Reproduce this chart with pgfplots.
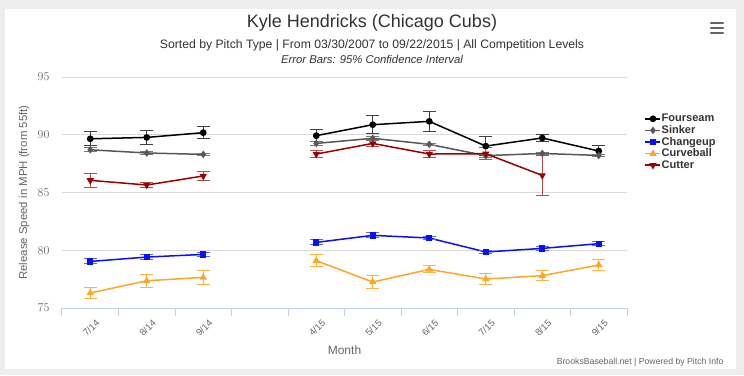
\documentclass[border=0pt]{standalone}
\usepackage{pgfplots}
\pgfplotsset{compat=1.18}
\usepackage{fontspec}
\setmainfont{Liberation Sans}
\definecolor{txt}{HTML}{333333}
\definecolor{lab}{HTML}{666666}
\definecolor{gridc}{HTML}{DADADA}
\definecolor{axisc}{HTML}{C0D0E0}
\definecolor{bg}{HTML}{EDEDED}
\definecolor{sk}{HTML}{585858}
\definecolor{ch}{HTML}{0A10F5}
\definecolor{cb}{HTML}{FFA628}
\definecolor{ct}{HTML}{9A0000}
\pgfplotsset{
  errb/.style={error bars/y dir=both, error bars/y explicit,
    error bars/error mark=|,
    error bars/error bar style={line width=1pt, #1},
    error bars/error mark options={line width=1pt, mark size=6.5pt, #1}},
  fsS/.style={black, line width=1.5pt, mark=*, mark size=2.6pt, mark options={solid}, errb={black!75}},
  skS/.style={sk, line width=1.5pt, mark=diamond*, mark size=2.6pt, mark options={solid}, errb={sk!80}},
  chS/.style={ch, line width=1.5pt, mark=square*, mark size=2.4pt, mark options={solid}, errb={ch!65}},
  cbS/.style={cb, line width=1.5pt, mark=triangle*, mark size=2.8pt, mark options={solid}, errb={cb!85}},
  ctS/.style={ct, line width=1.5pt, mark=triangle*, mark size=2.8pt, mark options={solid, rotate=180}, errb={ct!70}},
}
\begin{document}
\begin{tikzpicture}[x=1pt,y=1pt]
\fill[bg] (0,0) rectangle (744,375);
\fill[white] (5,6) rectangle (736,366);
\node[font=\fontsize{18}{20}\selectfont, text=txt] at (372,352) {Kyle Hendricks (Chicago Cubs)};
\node[font=\fontsize{12.2}{14}\selectfont, text=txt] at (372,330) {Sorted by Pitch Type | From 03/30/2007 to 09/22/2015 | All Competition Levels};
\node[font=\fontsize{11.3}{13}\selectfont\itshape, text=txt] at (372,316) {Error Bars: 95\% Confidence Interval};
\foreach \yy in {342,347,352} \draw[lab, line width=2.2pt, line cap=round] (711,\yy) -- (723,\yy);
\node[anchor=east, font=\fontsize{8.7}{10}\selectfont, text=lab] at (727,13) {BrooksBaseball.net | Powered by Pitch Info};
\begin{axis}[
  at={(62pt,67pt)}, anchor=south west, scale only axis,
  width=565pt, height=231pt,
  xmin=-0.5, xmax=9.5, ymin=75, ymax=95,
  ytick={75,80,...,95},
  ymajorgrids, grid style={gridc, line width=0.8pt},
  axis x line*=bottom, axis y line*=left,
  y axis line style={draw=none},
  x axis line style={axisc, line width=1pt},
  xtick={0,...,9},
  xticklabels={7/14,8/14,9/14,,4/15,5/15,6/15,7/15,8/15,9/15},
  minor xtick={-0.5,0.5,...,9.5},
  major tick length=0pt, minor tick length=8pt, tick align=outside,
  minor tick style={axisc, line width=1pt},
  xticklabel style={rotate=45, anchor=north east, font=\fontsize{9.5}{11}\selectfont, text=lab, inner sep=1pt, yshift=-10pt, xshift=-3pt},
  yticklabel style={font=\fontsize{12}{14}\selectfont, text=lab, xshift=-9pt},
  ylabel={Release Speed in MPH (from 55ft)},
  every axis y label/.style={at={(axis description cs:-0.067,0.5)}, rotate=90, anchor=center, font=\fontsize{11.4}{14}\selectfont, text=lab},
  xlabel={Month},
  every axis x label/.style={at={(axis description cs:0.5,-0.182)}, anchor=center, font=\fontsize{12}{14}\selectfont, text=lab},
  legend style={at={(axis description cs:1.031,0.845)}, anchor=north west, draw=none, fill=none,
    font=\fontsize{11}{12}\selectfont\bfseries, text=txt, row sep=0pt, inner sep=0pt,
    nodes={text height=8.3pt, text depth=2.3pt, inner sep=0.5pt}},
  legend cell align=left,
  legend image code/.code={\draw[mark repeat=2, mark phase=2, #1] plot coordinates {(0pt,0pt) (7.5pt,0pt) (15pt,0pt)};},
]
% Fourseam
\addplot[fsS] coordinates {(0,89.65) +- (0,0.6) (1,89.77) +- (0,0.62) (2,90.18) +- (0,0.53)};
\addlegendentry{Fourseam}
\addplot[fsS, forget plot] coordinates {(4,89.92) +- (0,0.5) (5,90.87) +- (0,0.78) (6,91.16) +- (0,0.85) (7,89.02) +- (0,0.8) (8,89.72) +- (0,0.3) (9,88.59) +- (0,0.46)};
% Sinker
\addplot[skS] coordinates {(0,88.70) +- (0,0.16) (1,88.42) +- (0,0.1) (2,88.30) +- (0,0.1)};
\addlegendentry{Sinker}
\addplot[skS, forget plot] coordinates {(4,89.25) +- (0,0.2) (5,89.69) +- (0,0.15) (6,89.17) +- (0,0.1) (7,88.19) +- (0,0.12) (8,88.38) +- (0,0.08) (9,88.21) +- (0,0.08)};
% Changeup
\addplot[chS] coordinates {(0,79.03) +- (0,0.22) (1,79.41) +- (0,0.2) (2,79.64) +- (0,0.2)};
\addlegendentry{Changeup}
\addplot[chS, forget plot] coordinates {(4,80.68) +- (0,0.22) (5,81.29) +- (0,0.22) (6,81.06) +- (0,0.13) (7,79.85) +- (0,0.15) (8,80.16) +- (0,0.15) (9,80.57) +- (0,0.17)};
% Curveball
\addplot[cbS] coordinates {(0,76.30) +- (0,0.5) (1,77.36) +- (0,0.58) (2,77.65) +- (0,0.63)};
\addlegendentry{Curveball}
\addplot[cbS, forget plot] coordinates {(4,79.10) +- (0,0.5) (5,77.25) +- (0,0.6) (6,78.34) +- (0,0.3) (7,77.51) +- (0,0.5) (8,77.80) +- (0,0.42) (9,78.72) +- (0,0.5)};
% Cutter
\addplot[ctS] coordinates {(0,86.05) +- (0,0.6) (1,85.65) +- (0,0.25) (2,86.43) +- (0,0.38)};
\addlegendentry{Cutter}
\addplot[ctS, forget plot] coordinates {(4,88.33) +- (0,0.28) (5,89.25) +- (0,0.3) (6,88.33) +- (0,0.3) (7,88.36) +- (0,0.5) (8,86.48) +- (0,1.75)};
\end{axis}
\end{tikzpicture}
\end{document}
